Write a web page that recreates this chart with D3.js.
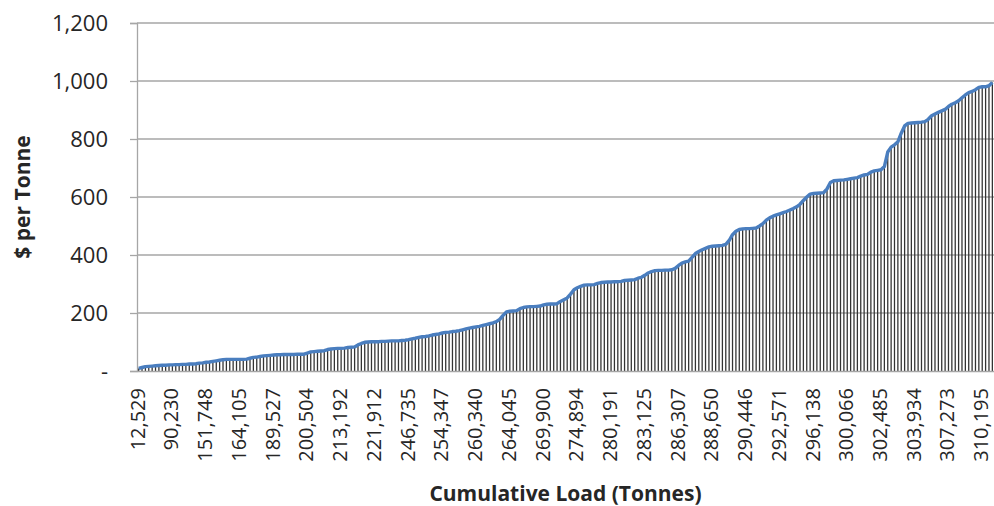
<!DOCTYPE html>
<html>
<head>
<meta charset="utf-8">
<script src="https://cdn.jsdelivr.net/npm/d3@7/dist/d3.min.js"></script>
<style>
    body { margin: 0; background: #fff; }
    text { font-family: "Open Sans", sans-serif; fill: #262626; }
</style>
</head>
<body>
<div id="chart"></div>
<script>
// x labels shown every 10th bar (Excel skips the rest)
const tickLabels = ["12,529", "90,230", "151,748", "164,105", "189,527", "200,504", "213,192",
    "221,912", "246,735", "254,347", "260,340", "264,045", "269,900", "274,894", "280,191",
    "283,125", "286,307", "288,650", "290,446", "292,571", "296,138", "300,066", "302,485",
    "303,934", "307,273", "310,195"]

// $ per tonne, one value per bar
const pricePerTonne = [
    9, 12, 15, 16, 17, 18, 19, 20, 20, 21,
    21, 22, 22, 23, 23, 24, 24, 25, 27, 28,
    30, 31, 33, 35, 37, 39, 40, 40, 40, 40,
    40, 40, 41, 44, 47, 48, 50, 52, 53, 54,
    55, 56, 56, 57, 57, 57, 57, 58, 58, 58,
    62, 66, 67, 68, 69, 70, 74, 76, 77, 78,
    78, 79, 81, 82, 83, 90, 95, 99, 100, 101,
    101, 101, 102, 102, 103, 104, 104, 104, 105, 106,
    108, 111, 113, 116, 118, 119, 121, 124, 126, 128,
    131, 133, 134, 136, 137, 139, 142, 145, 148, 150,
    152, 154, 157, 160, 163, 166, 170, 178, 192, 204,
    206, 207, 208, 215, 219, 221, 222, 222, 223, 224,
    228, 230, 231, 231, 232, 240, 246, 252, 265, 280,
    287, 292, 296, 297, 297, 298, 302, 305, 306, 307,
    307, 308, 308, 309, 312, 313, 314, 315, 320, 323,
    330, 338, 343, 346, 347, 347, 348, 348, 349, 354,
    364, 372, 376, 379, 392, 405, 412, 418, 423, 428,
    430, 431, 432, 433, 437, 450, 470, 482, 488, 490,
    491, 491, 492, 493, 500, 508, 520, 528, 534, 538,
    542, 546, 550, 555, 560, 566, 575, 588, 600, 610,
    612, 613, 614, 615, 628, 650, 656, 657, 658, 659,
    661, 663, 665, 667, 672, 676, 678, 686, 690, 692,
    694, 705, 755, 772, 780, 790, 820, 845, 854, 855,
    856, 857, 858, 860, 868, 880, 886, 892, 897, 902,
    912, 920, 925, 932, 942, 952, 960, 964, 970, 978,
    980, 980, 984, 995
]

const yTicks = [0, 200, 400, 600, 800, 1000, 1200]

const width = 994
const height = 506
const margin = { top: 23, right: 0, bottom: 135, left: 137 }

const svg = d3.select("#chart")
    .append("svg")
    .attr("width", width)
    .attr("height", height)

//scales
const x = d3.scaleBand()
    .domain(d3.range(pricePerTonne.length))
    .range([margin.left, width - margin.right])
    .paddingInner(0.62)
    .paddingOuter(0.3)

const y = d3.scaleLinear()
    .domain([0, 1200])
    .range([height - margin.bottom, margin.top])

//gridlines
svg.append("g")
    .selectAll("line")
    .data(yTicks.slice(1))
    .join("line")
    .attr("x1", margin.left)
    .attr("x2", width - margin.right)
    .attr("y1", d => y(d))
    .attr("y2", d => y(d))
    .attr("stroke", "#a6a6a6")
    .attr("stroke-width", 1.3)

//bars, drawn as thin dark columns
svg.append("g")
    .selectAll("rect")
    .data(pricePerTonne)
    .join("rect")
    .attr("x", (d, i) => x(i))
    .attr("y", d => y(d))
    .attr("width", x.bandwidth())
    .attr("height", d => y(0) - y(d))
    .attr("fill", "#333")

//line on top of the bars
const line = d3.line()
    .x((d, i) => x(i) + x.bandwidth() / 2)
    .y(d => y(d))

svg.append("path")
    .datum(pricePerTonne)
    .attr("d", line)
    .attr("fill", "none")
    .attr("stroke", "#4a7ebf")
    .attr("stroke-width", 3.4)
    .attr("stroke-linejoin", "round")

//y axis
const yAxis = svg.append("g")
    .attr("transform", `translate(${margin.left},0)`)
    .call(d3.axisLeft(y)
        .tickValues(yTicks)
        .tickSize(7)
        .tickPadding(22)
        .tickFormat(d => d === 0 ? "-" : d3.format(",")(d)))

yAxis.select(".domain").attr("stroke", "#a6a6a6").attr("stroke-width", 1.3)
yAxis.selectAll(".tick line").attr("stroke", "#a6a6a6").attr("stroke-width", 1.3)
yAxis.selectAll(".tick text")
    .style("font-size", "22px")
    .style("font-family", "'Open Sans', sans-serif")
    .attr("fill", "#262626")

//x axis
const xAxis = svg.append("g")
    .attr("transform", `translate(0,${y(0)})`)
    .call(d3.axisBottom(x)
        .tickValues(d3.range(0, pricePerTonne.length, 10))
        .tickSize(0)
        .tickFormat(i => tickLabels[i / 10]))

xAxis.select(".domain").attr("stroke", "#a6a6a6").attr("stroke-width", 1.3)
xAxis.selectAll(".tick text")
    .attr("transform", "rotate(-90)")
    .attr("x", -17)
    .attr("y", 0)
    .attr("dy", "0.3em")
    .style("text-anchor", "end")
    .style("font-size", "20px")
    .style("font-family", "'Open Sans', sans-serif")
    .attr("fill", "#262626")

//axis titles
svg.append("text")
    .attr("transform", `translate(30,${(margin.top + y(0)) / 2}) rotate(-90)`)
    .attr("text-anchor", "middle")
    .style("font-size", "21px")
    .style("font-weight", "bold")
    .text("$ per Tonne")

svg.append("text")
    .attr("x", (margin.left + width - margin.right) / 2)
    .attr("y", 501)
    .attr("text-anchor", "middle")
    .style("font-size", "21px")
    .style("font-weight", "bold")
    .text("Cumulative Load (Tonnes)")
</script>
</body>
</html>
